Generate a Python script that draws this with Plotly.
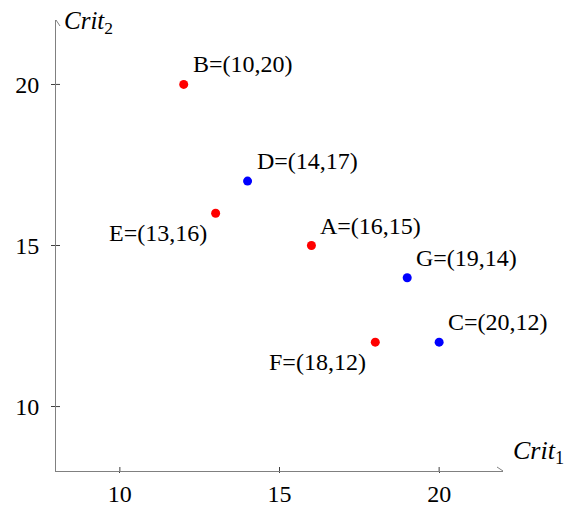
import plotly.graph_objects as go

names = ["A", "B", "C", "D", "E", "F", "G"]
xs = [16, 12, 20, 14, 13, 18, 19]
ys = [15, 20, 12, 17, 16, 12, 14]
labels = ["A=(16,15)", "B=(10,20)", "C=(20,12)", "D=(14,17)", "E=(13,16)", "F=(18,12)", "G=(19,14)"]
colors = ["red", "red", "blue", "blue", "red", "red", "blue"]
label_side = ["right", "right", "right", "right", "left", "left", "right"]
xticks = [10, 15, 20]
yticks = [10, 15, 20]
xrange_ = [8, 22]
yrange_ = [8, 22]

FONT = "Liberation Serif"
FS = 24
AX = "#808080"

fig = go.Figure()
fig.add_trace(go.Scatter(x=xs, y=ys, mode="markers",
                         marker=dict(color=colors, size=9, line=dict(width=0)),
                         hoverinfo="skip", showlegend=False))

ann = []
for x, y, t, s in zip(xs, ys, labels, label_side):
    if s == "right":
        ann.append(dict(x=x, y=y, text=t, showarrow=False, xanchor="left", yanchor="middle",
                        xshift=7, yshift=20, font=dict(family=FONT, size=FS, color="black")))
    else:
        ann.append(dict(x=x, y=y, text=t, showarrow=False, xanchor="right", yanchor="middle",
                        xshift=-7, yshift=-20, font=dict(family=FONT, size=FS, color="black")))

ann.append(dict(x=xrange_[0], y=yrange_[1], text="<i>Crit</i><sub>2</sub>", showarrow=False,
                xanchor="left", yanchor="middle", xshift=6, yshift=-2,
                font=dict(family=FONT, size=25, color="black")))
ann.append(dict(x=xrange_[1], y=yrange_[0], text="<i>Crit</i><sub>1</sub>", showarrow=False,
                xanchor="left", yanchor="middle", xshift=8, yshift=19,
                font=dict(family=FONT, size=26, color="black")))

shapes = []
# arrowheads
for dx, dy in [(-6, 4), (-6, -4)]:
    shapes.append(dict(type="line", xref="x", yref="y", xsizemode="pixel", ysizemode="pixel",
                       xanchor=xrange_[1], yanchor=yrange_[0], x0=0, y0=0, x1=dx, y1=dy,
                       line=dict(color=AX, width=1)))
for dx, dy in [(4, -6), (-4, -6)]:
    shapes.append(dict(type="line", xref="x", yref="y", xsizemode="pixel", ysizemode="pixel",
                       xanchor=xrange_[0], yanchor=yrange_[1], x0=0, y0=0, x1=dx, y1=dy,
                       line=dict(color=AX, width=1)))
# tick marks crossing the axes
for t in xticks:
    shapes.append(dict(type="line", xref="x", yref="y", ysizemode="pixel", yanchor=yrange_[0],
                       x0=t, x1=t, y0=-4, y1=4, line=dict(color="#404040", width=1)))
for t in yticks:
    shapes.append(dict(type="line", xref="x", yref="y", xsizemode="pixel", xanchor=xrange_[0],
                       y0=t, y1=t, x0=0, x1=4, line=dict(color="#404040", width=1)))

fig.update_layout(
    width=565, height=500,
    margin=dict(l=48, r=70, t=12, b=37, autoexpand=False),
    paper_bgcolor="white", plot_bgcolor="white",
    annotations=ann, shapes=shapes,
    xaxis=dict(range=xrange_, tickvals=xticks, showgrid=False, zeroline=False, automargin=False,
               showline=True, linecolor=AX, linewidth=1, ticks="outside", ticklen=1,
               tickcolor="#404040", ticklabelstandoff=0,
               tickfont=dict(family=FONT, size=FS, color="black")),
    yaxis=dict(range=yrange_, tickvals=yticks, showgrid=False, zeroline=False, automargin=False,
               showline=True, linecolor=AX, linewidth=1, ticks="outside", ticklen=4,
               tickcolor="#404040", ticklabelstandoff=7,
               tickfont=dict(family=FONT, size=FS, color="black")),
)
fig.write_html("out.html")
